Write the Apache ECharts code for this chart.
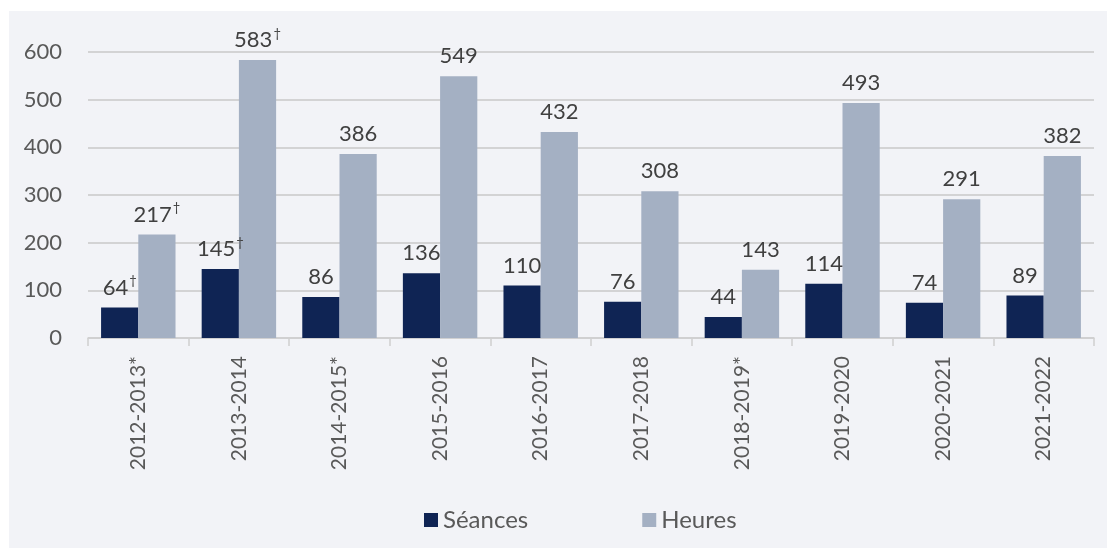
<!DOCTYPE html>
<html>
<head>
<meta charset="utf-8">
<script src="https://cdn.jsdelivr.net/npm/echarts@6/dist/echarts.min.js"></script>
<style>
html,body{margin:0;padding:0;background:#ffffff;}
#chart{width:1107px;height:548px;}
</style>
</head>
<body>
<div id="chart"></div>
<script>
const categories = ['2012-2013*','2013-2014','2014-2015*','2015-2016','2016-2017','2017-2018','2018-2019*','2019-2020','2020-2021','2021-2022'];
const seances = [64,145,86,136,110,76,44,114,74,89];
const heures = [217,583,386,549,432,308,143,493,291,382];
const seancesNotes = ['†','†','','','','','','','',''];
const heuresNotes = ['†','†','','','','','','','',''];
const yTicks = [0,100,200,300,400,500,600];

const FONT = 'Lato, "Open Sans", sans-serif';

function labelFmt(notes){
  return function(p){
    const n = notes[p.dataIndex];
    return n ? '{v|' + p.value + '}{s|' + n + '}' : '{v|' + p.value + '}';
  };
}
const richLabel = {
  v:{fontSize:22,color:'#404040',fontFamily:FONT,lineHeight:24,verticalAlign:'bottom'},
  s:{fontSize:13,color:'#404040',fontFamily:FONT,lineHeight:24,verticalAlign:'top',padding:[0,0,0,1]}
};

const chart = echarts.init(document.getElementById('chart'), null, {renderer:'canvas'});
chart.setOption({
  animation:false,
  backgroundColor:'#ffffff',
  graphic:[{type:'rect',shape:{x:9,y:11,width:1098,height:537},style:{fill:'#f2f3f7'},z:-10,silent:true}],
  grid:{left:88,right:13,top:52,bottom:210,containLabel:false},
  legend:{
    bottom:11,left:419,itemWidth:14,itemHeight:14,itemGap:114,
    icon:'rect',
    textStyle:{fontSize:24,color:'#595959',fontFamily:FONT},
    data:['Séances','Heures']
  },
  xAxis:{
    type:'category',data:categories,
    axisLine:{lineStyle:{color:'#d0d0d0',width:1.5}},
    axisTick:{show:true,length:8,lineStyle:{color:'#d0d0d0',width:1.5}},
    axisLabel:{rotate:90,fontSize:21,color:'#595959',fontFamily:FONT,margin:18}
  },
  yAxis:{
    type:'value',min:yTicks[0],max:yTicks[yTicks.length-1],interval:100,
    axisLine:{show:false},axisTick:{show:false},
    splitLine:{lineStyle:{color:'#c8c8c8',width:1.5}},
    axisLabel:{fontSize:22,color:'#595959',fontFamily:FONT,margin:26}
  },
  series:[
    {name:'Séances',type:'bar',data:seances,barGap:'0%',barCategoryGap:'26%',
     itemStyle:{color:'#0f2454'},
     label:{show:true,position:'top',distance:9,formatter:labelFmt(seancesNotes),rich:richLabel}},
    {name:'Heures',type:'bar',data:heures,
     itemStyle:{color:'#a4b0c3'},
     label:{show:true,position:'top',distance:9,formatter:labelFmt(heuresNotes),rich:richLabel}}
  ]
});
</script>
</body>
</html>
